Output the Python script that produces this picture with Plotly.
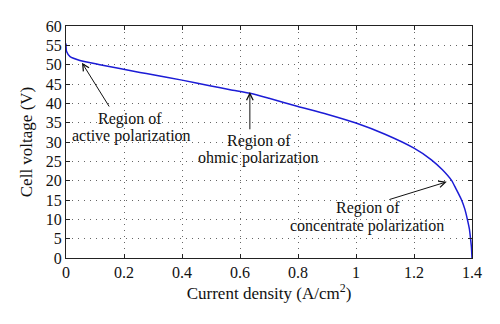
import plotly.graph_objects as go

current_density = [0, 0.002, 0.014, 0.048, 0.117, 0.255, 0.3, 0.4, 0.5, 0.566, 0.634, 0.7, 0.8, 0.9,
                   1.0, 1.1, 1.2, 1.26, 1.298, 1.33, 1.344, 1.364, 1.375, 1.384, 1.391, 1.395, 1.398, 1.4]
cell_voltage = [55.5, 53.4, 52.1, 51.1, 50.0, 48.0, 47.4, 46.0, 44.5, 43.5, 42.6, 41.3, 39.2, 37.2,
                34.9, 32.0, 28.4, 25.4, 22.8, 20.0, 18.0, 15.0, 12.7, 10.0, 7.5, 5.0, 2.8, 0]

x_ticks = [0, 0.2, 0.4, 0.6, 0.8, 1.0, 1.2, 1.4]
x_tick_labels = ["0", "0.2", "0.4", "0.6", "0.8", "1", "1.2", "1.4"]
y_ticks = [0, 5, 10, 15, 20, 25, 30, 35, 40, 45, 50, 55, 60]

# annotation text lines: (text, x, y)
label_lines = [
    ("Region of", 0.2205, 35.9),
    ("active polarization", 0.2274, 31.5),
    ("Region of", 0.665, 30.35),
    ("ohmic polarization", 0.6616, 25.95),
    ("Region of", 1.0424, 12.9),
    ("concentrate polarization", 1.039, 8.3),
]
# arrows: (head x, head y, tail x, tail y)
arrows = [
    (0.055, 50.5, 0.152, 38.8),
    (0.634, 42.9, 0.634, 32.9),
    (1.313, 19.7, 1.110, 15.0),
]

SERIF = "Liberation Serif"
TXT = "#111"

fig = go.Figure()
fig.add_trace(go.Scatter(x=current_density, y=cell_voltage, mode="lines",
                         line=dict(color="#1c1cd6", width=1.5, shape="spline", smoothing=0.6),
                         showlegend=False, hoverinfo="skip"))

for text, x, y in label_lines:
    fig.add_annotation(x=x, y=y, text=text, showarrow=False, xref="x", yref="y",
                       font=dict(family=SERIF, size=16, color=TXT), align="center")
for hx, hy, tx, ty in arrows:
    fig.add_annotation(x=hx, y=hy, ax=tx, ay=ty, xref="x", yref="y", axref="x", ayref="y",
                       text="", showarrow=True, arrowhead=5, arrowsize=1.3, arrowwidth=1,
                       arrowcolor=TXT)

axis_common = dict(showline=True, linecolor="#222", linewidth=1, mirror="ticks",
                   ticks="inside", ticklen=4, tickcolor="#222",
                   showgrid=True, gridcolor="#666", griddash="1px,5px", gridwidth=1,
                   zeroline=False, tickfont=dict(family=SERIF, size=16, color=TXT))

fig.update_xaxes(range=[0, 1.4], tickvals=x_ticks, ticktext=x_tick_labels,
                 title=dict(text="Current density (A/cm<sup>2</sup>)",
                            font=dict(family=SERIF, size=17, color=TXT), standoff=4),
                 **axis_common)
fig.update_yaxes(range=[0, 60], tickvals=y_ticks,
                 title=dict(text="Cell voltage (V)",
                            font=dict(family=SERIF, size=17, color=TXT), standoff=8),
                 **axis_common)

fig.update_layout(width=500, height=324, margin=dict(l=66, r=28, t=26, b=66),
                  paper_bgcolor="white", plot_bgcolor="white")

fig.write_html("out.html")
